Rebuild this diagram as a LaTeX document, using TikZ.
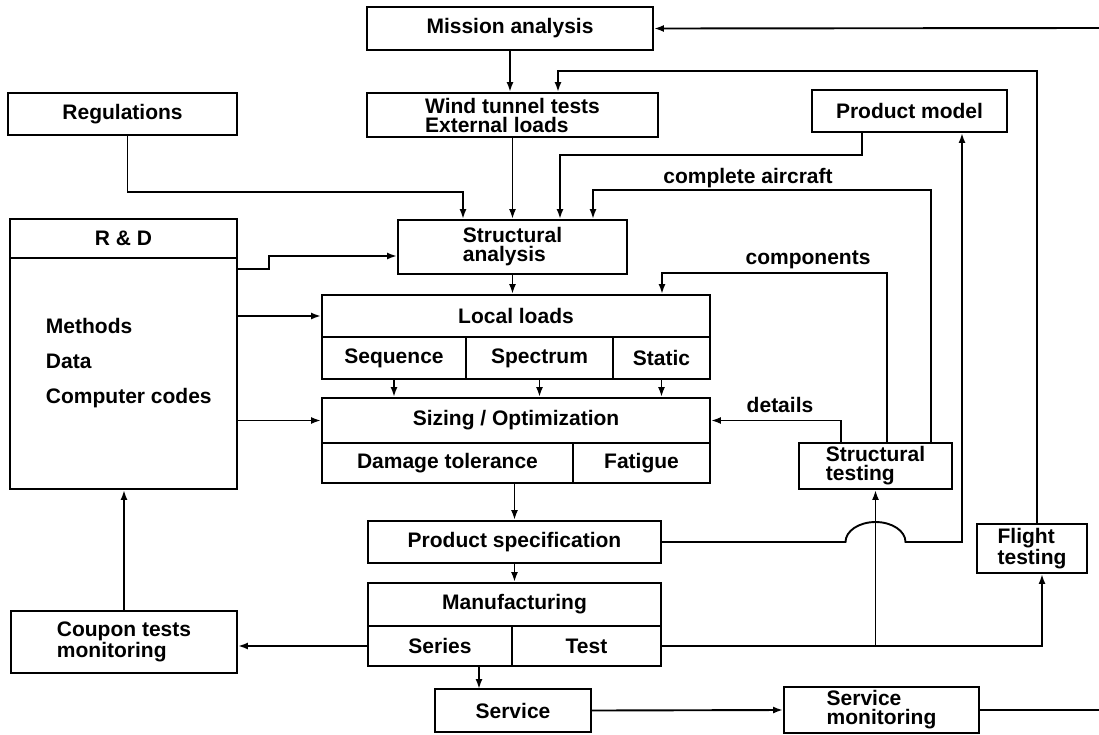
\documentclass[tikz,border=0pt]{standalone}
\usepackage{fontspec}
\setmainfont{Liberation Sans}
\usetikzlibrary{arrows.meta}

\begin{document}
\begin{tikzpicture}[x=1pt, y=-1pt, line width=1.9pt,
    box/.style={draw, rectangle, inner sep=0pt, align=left, font=\bfseries\fontsize{21}{19}\selectfont},
    lbl/.style={inner sep=0pt, font=\bfseries\fontsize{21}{19}\selectfont},
    arr/.style={-{Latex[length=10pt,width=7pt]}},
  ]
  \useasboundingbox (0,0) rectangle (1099,734);

  % top row
  \node[box, minimum width=286pt, minimum height=43pt] (mission) at (510,28.5) {Mission analysis};
  \node[box, minimum width=229pt, minimum height=42pt] (reg) at (122.5,114) {Regulations};
  \node[box, minimum width=291pt, minimum height=44pt] (wind) at (512.5,115) {Wind tunnel tests\\External loads};
  \node[box, minimum width=195pt, minimum height=42pt] (pmodel) at (909.5,111) {Product model};

  % R & D
  \node[box, minimum width=227pt, minimum height=39pt] (rndh) at (123.5,238.5) {R \& D};
  \node[box, minimum width=227pt, minimum height=231pt] (rndb) at (123.5,373.5) {};
  \node[lbl, align=left, anchor=west] (rndtxt) at (45,363) {Methods\\[16pt]Data\\[16pt]Computer codes};

  \node[box, minimum width=229pt, minimum height=54pt] (stran) at (512.5,247) {Structural\\analysis};

  % local loads
  \node[box, minimum width=388pt, minimum height=42pt] (loc) at (516,316) {Local loads};
  \node[box, minimum width=144pt, minimum height=42pt] (seq) at (394,358) {Sequence};
  \node[box, minimum width=147pt, minimum height=42pt] (spec) at (539.5,358) {Spectrum};
  \node[box, minimum width=97pt, minimum height=42pt] (stat) at (661.5,358) {Static};

  % sizing
  \node[box, minimum width=388pt, minimum height=45pt] (sizing) at (516,420.5) {Sizing / Optimization};
  \node[box, minimum width=251pt, minimum height=40pt] (dmg) at (447.5,463) {Damage tolerance};
  \node[box, minimum width=137pt, minimum height=40pt] (fat) at (641.5,463) {Fatigue};

  \node[box, minimum width=153pt, minimum height=46pt] (stest) at (875.5,466) {Structural\\testing};
  \node[box, minimum width=110pt, minimum height=49pt] (ftest) at (1032,548.5) {Flight\\testing};

  \node[box, minimum width=293pt, minimum height=42pt] (pspec) at (514.5,542) {Product specification};
  \node[box, minimum width=293pt, minimum height=43pt] (manu) at (514.5,604.5) {Manufacturing};
  \node[box, minimum width=144pt, minimum height=40pt] (series) at (440,646) {Series};
  \node[box, minimum width=149pt, minimum height=40pt] (test) at (586.5,646) {Test};

  \node[box, minimum width=226pt, minimum height=62pt] (coupon) at (124,642) {Coupon tests\\monitoring};
  \node[box, minimum width=156pt, minimum height=43pt] (service) at (513,710.5) {Service};
  \node[box, minimum width=195pt, minimum height=46pt] (smon) at (881.5,710) {Service\\monitoring};

  \node[lbl] (lca) at (748,178) {complete aircraft};
  \node[lbl] (lco) at (808,260) {components};
  \node[lbl] (lde) at (780,405) {details};

  \coordinate (eR1) at (1099,28);
  \coordinate (eR2) at (1099,710);
  \coordinate (flb) at (558,71);
  \coordinate (regb) at (463,192);
  \coordinate (pmb) at (560,155);
  \coordinate (cab) at (593,190);
  \coordinate (rsb) at (269,269);
  \coordinate (cob) at (662,273);
  \coordinate (svin) at (479,689);

  \draw[arr] (eR1) -- (mission.east);
  \draw[arr] (mission.south) -- (mission.south |- wind.north);
  \draw[arr] ([xshift=5pt]ftest.north) |- (flb) -- (flb |- wind.north);
  \draw[arr] (wind.south) -- (wind.south |- stran.north);
  \draw[arr] ([xshift=5pt]reg.south) |- (regb) -- (regb |- stran.north);
  \draw[arr] ([xshift=51pt]pmodel.south west) |- (pmb) -- (pmb |- stran.north);
  \draw[arr] ([xshift=133pt]stest.north west) |- (cab) -- (cab |- stran.north);
  \draw[arr] (rsb -| rndb.east) -- (rsb) |- ([yshift=-9pt]stran.west);
  \draw[arr] (stran.south) -- (stran.south |- loc.north);
  \draw[arr] (rndb.east |- loc.west) -- (loc.west);
  \draw[arr] ([xshift=89pt]stest.north west) |- (cob) -- (cob |- loc.north);
  \foreach \c in {seq,spec,stat}
    \draw[arr] (\c.south) -- (\c.south |- sizing.north);
  \draw[arr] (rndb.east |- sizing.west) -- (sizing.west);
  \draw[arr] ([xshift=43pt]stest.north west) |- (sizing.east);
  \draw[arr] (dmg.south -| pspec.north) -- (pspec.north);

  % product specification to product model, hopping over the test line
  \coordinate (hop) at (stest.south |- pspec.east);
  \coordinate (pmin) at ([xshift=52.5pt]pmodel.south);
  \draw[arr] (pspec.east) -- ([xshift=-30pt]hop)
    arc[start angle=180, end angle=0, x radius=30pt, y radius=20pt]
    -- (pmin |- pspec.east) -- (pmin);

  \draw[arr] (pspec.south) -- (manu.north);
  \draw[arr] (series.west) -- (series.west -| coupon.east);
  \draw[arr] (coupon.north) -- (coupon.north |- rndb.south);
  \draw[arr] (test.east) -| (stest.south);
  \draw[arr] (test.east) -| ([xshift=10pt]ftest.south);
  \draw[arr] (svin |- series.south) -- (svin);
  \draw[arr] (service.east) -- (smon.west);
  \draw (smon.east) -- (eR2);
\end{tikzpicture}
\end{document}
